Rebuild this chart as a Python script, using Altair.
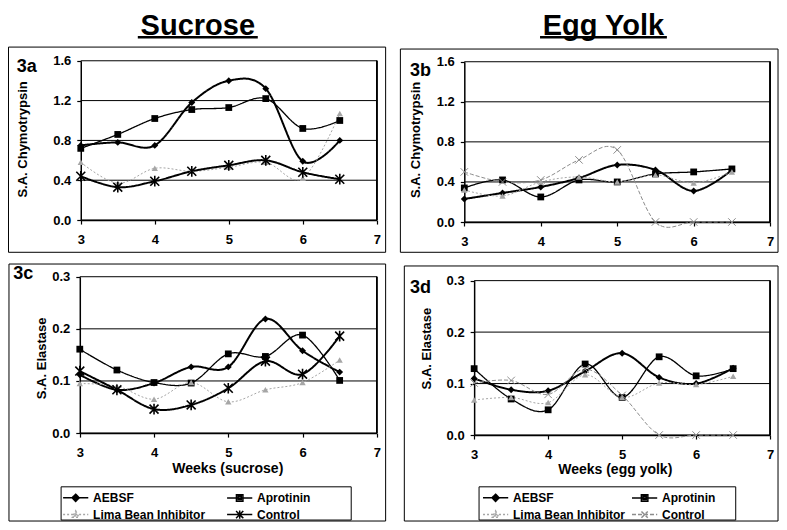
import altair as alt
import pandas as pd

WEEKS = [3, 3.5, 4, 4.5, 5, 5.5, 6, 6.5]
X_DOMAIN = [3, 7]
X_TICKS = [3, 4, 5, 6, 7]
SERIES = ["AEBSF", "Aprotinin", "Lima Bean Inhibitor", "Control"]
COLUMN_TITLES = ["Sucrose", "Egg Yolk"]
PANEL_LABELS = ["3a", "3b", "3c", "3d"]
Y_TITLES = ["S.A. Chymotrypsin", "S.A. Chymotrypsin", "S.A. Elastase", "S.A. Elastase"]
X_TITLES = ["Weeks (sucrose)", "Weeks (egg yolk)"]
CHY_TICKS = [0.0, 0.4, 0.8, 1.2, 1.6]
ELA_TICKS = [0.0, 0.1, 0.2, 0.3]

# 3a  Sucrose - chymotrypsin
SUC_CHY_AEBSF = [0.75, 0.78, 0.75, 1.18, 1.40, 1.32, 0.59, 0.80]
SUC_CHY_APRO = [0.72, 0.86, 1.02, 1.11, 1.13, 1.22, 0.92, 1.00]
SUC_CHY_LIMA = [0.58, 0.37, 0.52, 0.49, 0.53, 0.58, 0.42, 1.07]
SUC_CHY_CTRL = [0.44, 0.33, 0.39, 0.49, 0.55, 0.60, 0.48, 0.41]
# 3b  Egg yolk - chymotrypsin
EGG_CHY_AEBSF = [0.23, 0.29, 0.35, 0.44, 0.57, 0.52, 0.31, 0.52]
EGG_CHY_APRO = [0.34, 0.42, 0.25, 0.42, 0.40, 0.48, 0.50, 0.53]
EGG_CHY_LIMA = [0.32, 0.26, 0.40, 0.45, 0.40, 0.47, 0.39, 0.50]
EGG_CHY_CTRL = [0.50, 0.40, 0.42, 0.62, 0.72, 0.0, 0.0, 0.0]
# 3c  Sucrose - elastase
SUC_ELA_AEBSF = [0.112, 0.083, 0.096, 0.127, 0.127, 0.219, 0.158, 0.117]
SUC_ELA_APRO = [0.161, 0.121, 0.097, 0.096, 0.152, 0.147, 0.188, 0.101]
SUC_ELA_LIMA = [0.095, 0.090, 0.065, 0.097, 0.060, 0.083, 0.097, 0.140]
SUC_ELA_CTRL = [0.119, 0.083, 0.046, 0.054, 0.086, 0.138, 0.113, 0.186]
# 3d  Egg yolk - elastase
EGG_ELA_AEBSF = [0.110, 0.088, 0.086, 0.124, 0.159, 0.112, 0.100, 0.130]
EGG_ELA_APRO = [0.129, 0.070, 0.049, 0.138, 0.073, 0.152, 0.115, 0.129]
EGG_ELA_LIMA = [0.068, 0.073, 0.063, 0.117, 0.073, 0.101, 0.098, 0.114]
EGG_ELA_CTRL = [0.101, 0.106, 0.079, 0.128, 0.077, 0.0, 0.0, 0.0]

FONT = "Liberation Sans"
GREY = "#a6a6a6"
CTRL_GREY = "#8c8c8c"
W, H = 771, 514


# layout helpers: reference-picture pixel -> canvas pixel
def PX(v):
    return (v - 3) * W / 784.0


def PY(v):
    return (v - 3) * H / 526.0


ASTERISK = "M-1,-1L1,1M-1,1L1,-1M0,-1.2V1.2"
XMARK = "M-1,-1L1,1M-1,1L1,-1"
L_LINE = "M-1.4,0H1.4"
L_DIAMOND = L_LINE + "M-0.4,0L0,-0.4L0.4,0L0,0.4ZM-0.22,0L0,-0.22L0.22,0L0,0.22ZM-0.06,0H0.06"
L_SQUARE = L_LINE + "M-0.36,-0.36H0.36V0.36H-0.36ZM-0.18,-0.18H0.18V0.18H-0.18Z"
L_TRI = L_LINE + "M0,-0.4L0.36,0.3H-0.36ZM0,-0.12L0.14,0.16H-0.14Z"
L_AST = L_LINE + "M-0.4,-0.4L0.4,0.4M-0.4,0.4L0.4,-0.4M0,-0.46V0.46"
L_X = L_LINE + "M-0.35,-0.35L0.35,0.35M-0.35,0.35L0.35,-0.35"


def style(egg):
    st = {
        "AEBSF": dict(color="black", lw=2, dash=[1, 0], shape="diamond", size=48, filled=True, mw=1),
        "Aprotinin": dict(color="black", lw=1.3, dash=[1, 0], shape="square", size=46, filled=True, mw=1),
        "Lima Bean Inhibitor": dict(color=GREY, lw=1, dash=[2, 2], shape="triangle-up", size=40,
                                    filled=True, mw=1),
        "Control": dict(color="black", lw=2, dash=[1, 0], shape=ASTERISK, size=80, filled=False, mw=1.6),
    }
    if egg:
        st["Control"] = dict(color=CTRL_GREY, lw=1, dash=[4, 2], shape=XMARK, size=56, filled=False, mw=1)
    return st


def long_df(arrays):
    rows = []
    for s, vals in zip(SERIES, arrays):
        for wk, v in zip(WEEKS, vals):
            rows.append({"week": wk, "value": v, "series": s})
    return pd.DataFrame(rows)


def panel(idx, arrays, egg, plot, ydom, yticks, ytitle_c, xtitle=None, xtitle_c=None,
          legend=None):
    x0, x1, y0, y1 = PX(plot[0]), PX(plot[1]), PY(plot[2]), PY(plot[3])
    df = long_df(arrays)
    st = style(egg)
    xs = alt.Scale(domain=X_DOMAIN, range=[x0, x1], nice=False, zero=False)
    ys = alt.Scale(domain=ydom, range=[y1, y0], nice=False, zero=False)
    xa = dict(orient="bottom", offset=y1 - H, values=X_TICKS, format="d", grid=False, labelPadding=9)
    if xtitle:
        xa.update(title=xtitle, titleX=PX(xtitle_c[0]), titleY=PY(xtitle_c[1]) - y1,
                  titleBaseline="middle", titleFontSize=14)
    else:
        xa.update(title=None)
    ya = alt.Axis(orient="left", offset=-x0, values=yticks, format=".1f", grid=False, labelPadding=6,
                  title=Y_TITLES[idx], titleX=PX(ytitle_c[0]) - x0, titleY=PY(ytitle_c[1]),
                  titleBaseline="middle", titleFontSize=13)
    xa = alt.Axis(**xa)

    layers = []
    gdf = pd.DataFrame({"tick": yticks})
    layers.append(alt.Chart(gdf).mark_rule(color="black", strokeWidth=1).encode(
        x=alt.X(datum=X_DOMAIN[0], scale=xs, axis=xa), x2=alt.X2(datum=X_DOMAIN[1]),
        y=alt.Y("tick:Q", scale=ys, axis=ya)))
    layers.append(alt.Chart(gdf).mark_rule(color="black", strokeWidth=1.2).encode(
        x=alt.X(datum=X_DOMAIN[1], scale=xs, axis=xa),
        y=alt.Y(datum=ydom[0], scale=ys, axis=ya), y2=alt.Y2(datum=ydom[1])))
    x_enc = alt.X("week:Q", scale=xs, axis=xa)
    y_enc = alt.Y("value:Q", scale=ys, axis=ya)
    for s in SERIES:
        c = st[s]
        layers.append(alt.Chart(df[df.series == s]).mark_line(
            interpolate="cardinal", color=c["color"], strokeWidth=c["lw"], strokeDash=c["dash"]
        ).encode(x=x_enc, y=y_enc))
    for s in SERIES:
        c = st[s]
        layers.append(alt.Chart(df[df.series == s]).mark_point(
            shape=c["shape"], filled=c["filled"], color=c["color"], size=c["size"],
            strokeWidth=c["mw"], opacity=1
        ).encode(x=x_enc, y=y_enc))
    if legend:
        leg = alt.Legend(orient="none", legendX=PX(legend["line0"]) + 3.6, legendY=PY(legend["row0"]) - 9,
                         direction="horizontal", columns=2, columnPadding=legend["colpad"],
                         rowPadding=0, padding=0, labelFontSize=12, labelFontWeight="bold",
                         labelColor="black", labelOffset=7.4, symbolSize=324, symbolStrokeWidth=1.5,
                         symbolOpacity=1, labelLimit=0)
        colors = [st[s]["color"] for s in SERIES]
        paths = [L_DIAMOND, L_SQUARE, L_TRI, L_X if egg else L_AST]
        dashes = [st[s]["dash"] for s in SERIES]
        layers.append(alt.Chart(df).mark_point(opacity=0, filled=False).encode(
            x=x_enc, y=y_enc,
            color=alt.Color("series:N", scale=alt.Scale(domain=SERIES, range=colors), legend=leg,
                            title=None),
            shape=alt.Shape("series:N", scale=alt.Scale(domain=SERIES, range=paths), legend=leg,
                            title=None),
            strokeDash=alt.StrokeDash("series:N", scale=alt.Scale(domain=SERIES, range=dashes),
                                      legend=leg, title=None),
        ))
    return alt.layer(*layers)


def box(b):
    one = pd.DataFrame({"k": [0]})
    return alt.Chart(one).mark_rect(fillOpacity=0, stroke="black", strokeWidth=1).encode(
        x=alt.value(PX(b[0])), x2=alt.value(PX(b[1])), y=alt.value(PY(b[2])), y2=alt.value(PY(b[3])))


def label(text, pos, size, align="left"):
    d = pd.DataFrame({"t": [text]})
    return alt.Chart(d).mark_text(fontSize=size, fontWeight="bold", align=align, baseline="alphabetic",
                                  color="black").encode(x=alt.value(PX(pos[0])), y=alt.value(PY(pos[1])),
                                                        text="t:N")


def underline(x_a, x_b, yv):
    one = pd.DataFrame({"k": [0]})
    return alt.Chart(one).mark_rule(color="black", strokeWidth=2.5).encode(
        x=alt.value(PX(x_a)), x2=alt.value(PX(x_b)), y=alt.value(PY(yv)))


pa = panel(0, [SUC_CHY_AEBSF, SUC_CHY_APRO, SUC_CHY_LIMA, SUC_CHY_CTRL], False,
           (77, 378, 57, 220), [0, 1.6], CHY_TICKS, (18, 137))
pb = panel(1, [EGG_CHY_AEBSF, EGG_CHY_APRO, EGG_CHY_LIMA, EGG_CHY_CTRL], True,
           (467, 778, 58, 222), [0, 1.6], CHY_TICKS, (417.5, 137.5))
pc = panel(2, [SUC_ELA_AEBSF, SUC_ELA_APRO, SUC_ELA_LIMA, SUC_ELA_CTRL], False,
           (76, 378, 278, 438), [0, 0.3], ELA_TICKS, (37.5, 361),
           xtitle=X_TITLES[0], xtitle_c=(226, 474.5),
           legend=dict(line0=58, row0=503, colpad=18))
pd_ = panel(3, [EGG_ELA_AEBSF, EGG_ELA_APRO, EGG_ELA_LIMA, EGG_ELA_CTRL], True,
            (477, 778, 282, 440), [0, 0.3], ELA_TICKS, (429, 351),
            xtitle=X_TITLES[1], xtitle_c=(620, 475.5),
            legend=dict(line0=485, row0=503, colpad=3))

decor = [
    box((3.5, 387, 43, 253)), box((402, 786, 45, 253)),
    box((4, 387, 265, 528)), box((406, 786, 267, 528)),
    box((57, 352, 493, 527)), box((482, 743, 493, 527)),
    label(COLUMN_TITLES[0], (196, 30.8), 29, "center"), underline(135, 257, 33),
    label(COLUMN_TITLES[1], (608.5, 30.8), 29, "center"), underline(544, 673, 33),
    label(PANEL_LABELS[0], (12, 68.3), 18), label(PANEL_LABELS[1], (411.7, 72.3), 18),
    label(PANEL_LABELS[2], (8.3, 280), 18), label(PANEL_LABELS[3], (411.7, 295), 18),
]

chart = alt.layer(pa, pb, pc, pd_, *decor).resolve_scale(
    x="independent", y="independent", color="independent", shape="independent",
    strokeDash="independent"
).resolve_axis(x="independent", y="independent").resolve_legend(
    color="independent", shape="independent", strokeDash="independent"
).properties(
    width=W, height=H, autosize=alt.AutoSizeParams(type="none"), padding=0
).configure(font=FONT).configure_view(strokeWidth=0).configure_axis(
    labelFont=FONT, labelFontSize=13, labelFontWeight="bold", labelColor="black",
    titleFont=FONT, titleFontWeight="bold", titleColor="black",
    domainColor="black", domainWidth=1.5, tickColor="black", tickSize=4, tickWidth=1.2,
    labelFlush=False, labelOverlap=False
).configure_legend(labelFont=FONT)

chart.save("out.html", embed_options={"renderer": "svg", "actions": False})
